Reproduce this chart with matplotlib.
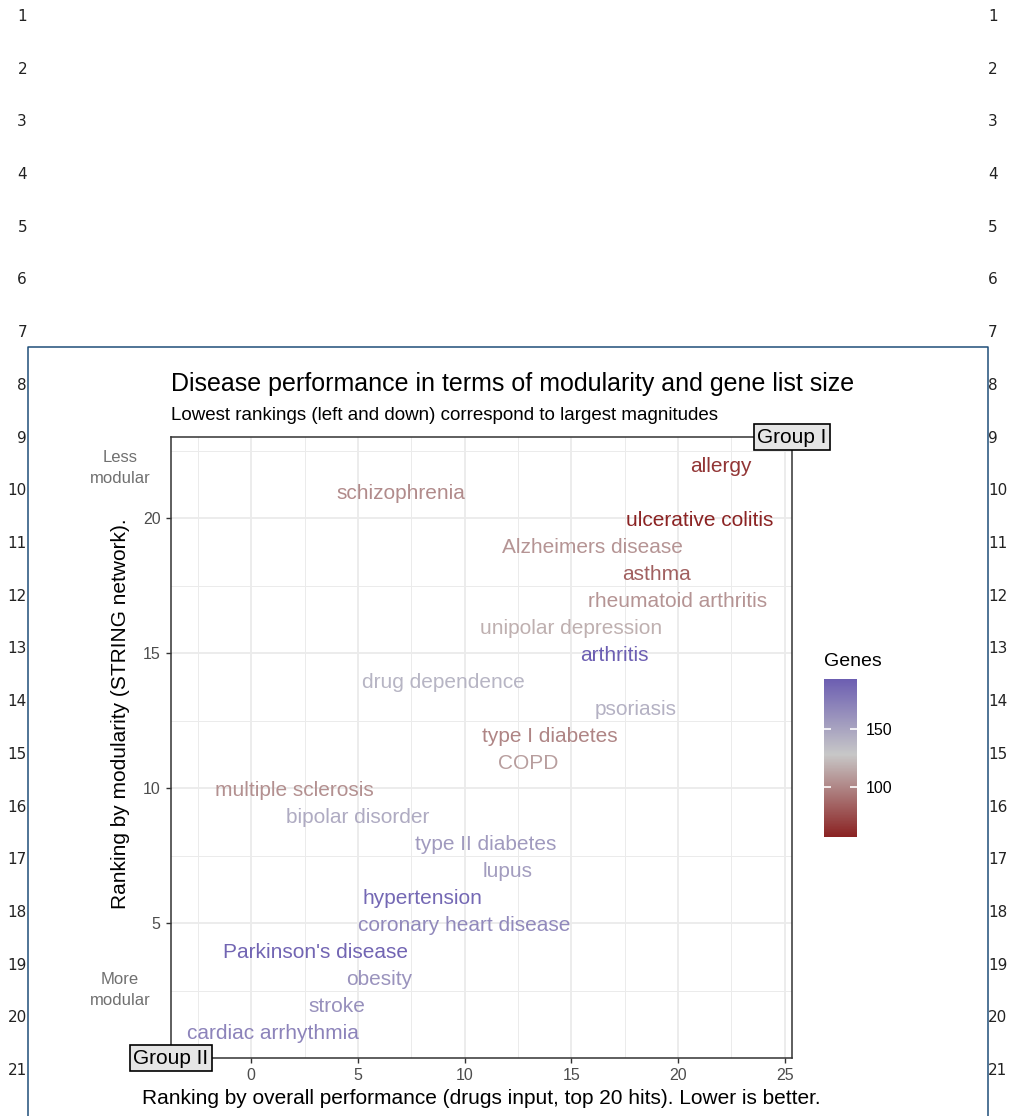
import numpy as np
import matplotlib
matplotlib.use("Agg")
import matplotlib.pyplot as plt
from matplotlib.colors import LinearSegmentedColormap, Normalize
from matplotlib.lines import Line2D

plt.rcParams['font.family'] = ['Liberation Sans', 'DejaVu Sans']

# disease rankings and gene list sizes
diseases = ["allergy", "schizophrenia", "ulcerative colitis", "Alzheimers disease",
            "asthma", "rheumatoid arthritis", "unipolar depression", "arthritis",
            "drug dependence", "psoriasis", "type I diabetes", "COPD",
            "multiple sclerosis", "bipolar disorder", "type II diabetes", "lupus",
            "hypertension", "coronary heart disease", "Parkinson's disease",
            "obesity", "stroke", "cardiac arrhythmia"]
perf_rank = [22, 7, 21, 16, 19, 20, 15, 17, 9, 18, 14, 13, 2, 5, 11, 12, 8, 10, 3, 6, 4, 1]
mod_rank = [22, 21, 20, 19, 18, 17, 16, 15, 14, 13, 12, 11, 10, 9, 8, 7, 6, 5, 4, 3, 2, 1]
genes = [66, 102, 58, 106, 84, 106, 118, 192, 140, 142, 100, 110,
         104, 146, 156, 154, 186, 166, 188, 160, 162, 170]

gene_mid = 128
colorbar_ticks = [100, 150]
x_ticks = [0, 5, 10, 15, 20, 25]
y_ticks = [5, 10, 15, 20]

W, H = 1013, 1116
fig = plt.figure(figsize=(W / 100, H / 100), dpi=100)

# page line numbers and frame
for i in range(21):
    yy = 1 - (16.5 + i * 52.7) / H
    fig.text(27 / W, yy, str(i + 1), ha='right', va='center', fontsize=11,
             family='DejaVu Sans', color='#222222')
    fig.text(988 / W, yy, str(i + 1), ha='left', va='center', fontsize=11,
             family='DejaVu Sans', color='#222222')
frame_x = np.array([28, 28, 988, 988]) / W
frame_y = 1 - np.array([1120, 347, 347, 1120]) / H
fig.add_artist(Line2D(frame_x, frame_y, color='#1F4E79', lw=1.1))

# colour scale: low = red, mid = grey, high = purple
cmap = LinearSegmentedColormap.from_list('genes', ['#8B2323', '#C8C8C8', '#6455B0'])
half = max(gene_mid - min(genes), max(genes) - gene_mid)
norm = Normalize(vmin=gene_mid - half, vmax=gene_mid + half)

ax = fig.add_axes([171 / W, 1 - 1058 / H, (792 - 171) / W, (1058 - 437) / H])
ax.set_xlim(-3.76, 25.34)
ax.set_ylim(0, 23.02)
ax.set_xticks(x_ticks)
ax.set_yticks(y_ticks)
ax.set_xticks(np.arange(-2.5, 25.1, 5), minor=True)
ax.set_yticks(np.arange(2.5, 23, 5), minor=True)
ax.grid(which='major', color='#EBEBEB', lw=1.3)
ax.grid(which='minor', color='#EBEBEB', lw=0.7)
ax.set_axisbelow(True)
ax.tick_params(which='major', length=3.5, width=1.0, color='#333333',
               labelcolor='#4D4D4D', labelsize=11.5, pad=4)
ax.tick_params(which='minor', length=0)
for sp in ax.spines.values():
    sp.set_color('#333333')
    sp.set_linewidth(1.1)

for name, xv, yv, g in zip(diseases, perf_rank, mod_rank, genes):
    ax.text(xv, yv, name, ha='center', va='center_baseline', fontsize=15,
            color=cmap(norm(g)))

box = dict(boxstyle='square,pad=0.18', facecolor='#E5E5E5', edgecolor='black', lw=1.2)
ax.text(1, 1, "Group I", transform=ax.transAxes, ha='center', va='center',
        fontsize=15, bbox=box, clip_on=False, zorder=5)
ax.text(0, 0, "Group II", transform=ax.transAxes, ha='center', va='center',
        fontsize=15, bbox=box, clip_on=False, zorder=5)

fig.text(120 / W, 1 - 468 / H, "Less\nmodular", ha='center', va='center',
         fontsize=12, color='#707070', linespacing=1.45)
fig.text(120 / W, 1 - 990 / H, "More\nmodular", ha='center', va='center',
         fontsize=12, color='#707070', linespacing=1.45)

fig.text(171 / W, 1 - 384 / H, "Disease performance in terms of modularity and gene list size",
         ha='left', va='center', fontsize=18)
fig.text(171 / W, 1 - 416 / H, "Lowest rankings (left and down) correspond to largest magnitudes",
         ha='left', va='center', fontsize=13.5)
fig.text(481 / W, 1 - 1098 / H,
         "Ranking by overall performance (drugs input, top 20 hits). Lower is better.",
         ha='center', va='center', fontsize=15)
fig.text(120 / W, 1 - 714 / H, "Ranking by modularity (STRING network).",
         ha='center', va='center', rotation=90, fontsize=15)

# colour bar legend
cax = fig.add_axes([824 / W, 1 - 837 / H, 33 / W, 158 / H])
gvals = np.linspace(min(genes), max(genes), 300)
cax.imshow(gvals[:, None], aspect='auto', origin='lower', cmap=cmap, norm=norm,
           extent=[0, 1, min(genes), max(genes)])
cax.hlines(colorbar_ticks, 0, 0.2, color='white', lw=1.2)
cax.hlines(colorbar_ticks, 0.8, 1, color='white', lw=1.2)
cax.set_xticks([])
cax.yaxis.tick_right()
cax.set_yticks(colorbar_ticks)
cax.tick_params(length=0, labelsize=11.5, pad=6)
for sp in cax.spines.values():
    sp.set_visible(False)
fig.text(824 / W, 1 - 661 / H, "Genes", ha='left', va='center', fontsize=14)

fig.savefig("out.png", dpi=100)
